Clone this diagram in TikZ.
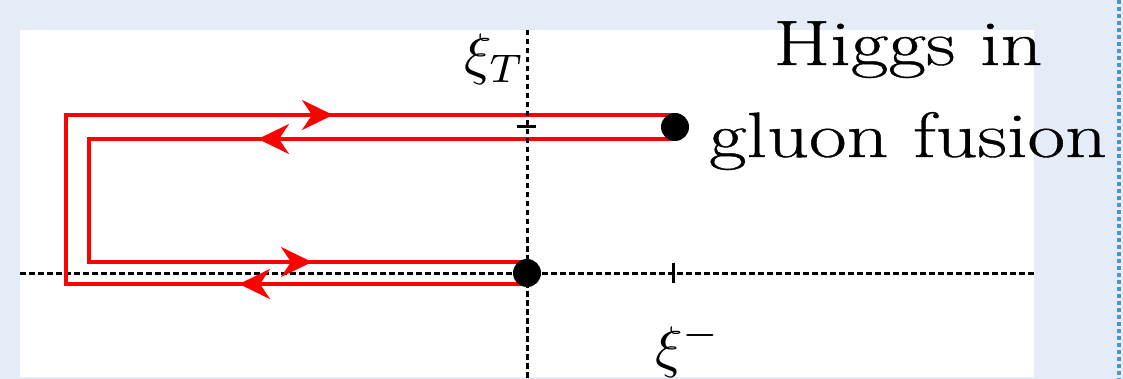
\documentclass[tikz,border=0pt]{standalone}
\usepackage{fontspec}
\newfontfamily\titlefont{Latin Modern Roman}[FakeStretch=1.28,FakeBold=0.6]
\usetikzlibrary{arrows.meta,decorations.markings}
\definecolor{bgblue}{RGB}{228,237,247}
\definecolor{dotblue}{RGB}{70,150,210}
\tikzset{wtip/.tip={Stealth[length=31pt,width=30pt,inset=10pt]}}
\begin{document}
\begin{tikzpicture}[x=1pt,y=-1pt,
  axis/.style={line width=3pt, dash pattern=on 5.5pt off 3.5pt},
  wline/.style={red, line width=3.5pt, line join=miter, postaction={decorate}},
  dot/.style={circle, fill=black, minimum size=28pt, inner sep=0pt},
  tickmark/.style={line width=3pt},
  lbl/.style={inner sep=0pt},
  title/.style={inner sep=0pt, anchor=base, font=\titlefont\fontsize{64}{90}\selectfont}]
\useasboundingbox (0,0) rectangle (1123,379);
\fill[bgblue] (0,0) rectangle (1123,379);
\fill[white] (20,30) rectangle (1034,377);
\draw[dotblue, line width=4pt, dash pattern=on 4pt off 3pt] (1119,0) -- (1119,379);
% horizontal axis
\coordinate (xl) at (20,273);
\coordinate (xr) at (1034,273);
\draw[axis] (xl) -- (xr);
% Wilson lines
\coordinate (a1) at (525,284);
\coordinate (a2) at (66,284);
\coordinate (a3) at (66,115);
\coordinate (a4) at (673,115);
\draw[wline, decoration={markings,
    mark=at position 286pt with {\arrow{wtip}},
    mark=at position 895pt with {\arrow{wtip}}}]
  (a1) -- (a2) -- (a3) -- (a4);
\coordinate (b1) at (673,139);
\coordinate (b2) at (89,139);
\coordinate (b3) at (89,262);
\coordinate (b4) at (525,262);
\draw[wline, decoration={markings,
    mark=at position 415pt with {\arrow{wtip}},
    mark=at position 930pt with {\arrow{wtip}}}]
  (b1) -- (b2) -- (b3) -- (b4);
% vertical axis
\coordinate (yt) at (527,30);
\coordinate (yb) at (527,379);
\draw[axis] (yt) -- (yb);
% ticks
\coordinate (t1l) at (517,127);
\coordinate (t1r) at (536,127);
\draw[tickmark] (t1l) -- (t1r);
\coordinate (t2t) at (673,263);
\coordinate (t2b) at (673,283);
\draw[tickmark] (t2t) -- (t2b);
% dots
\node[dot] (o) at (527,273) {};
\node[dot] (p) at (675,127) {};
% labels
\node[lbl, anchor=base west] (xiT) at (464,74) {\scalebox{5.7}{$\xi_T$}};
\node[lbl, anchor=base west] (xim) at (655,366) {\scalebox{5.7}{$\xi^-$}};
\node[title] (t1) at (908,65) {Higgs in};
\node[title] (t2) at (908,157) {gluon fusion};
\end{tikzpicture}
\end{document}
